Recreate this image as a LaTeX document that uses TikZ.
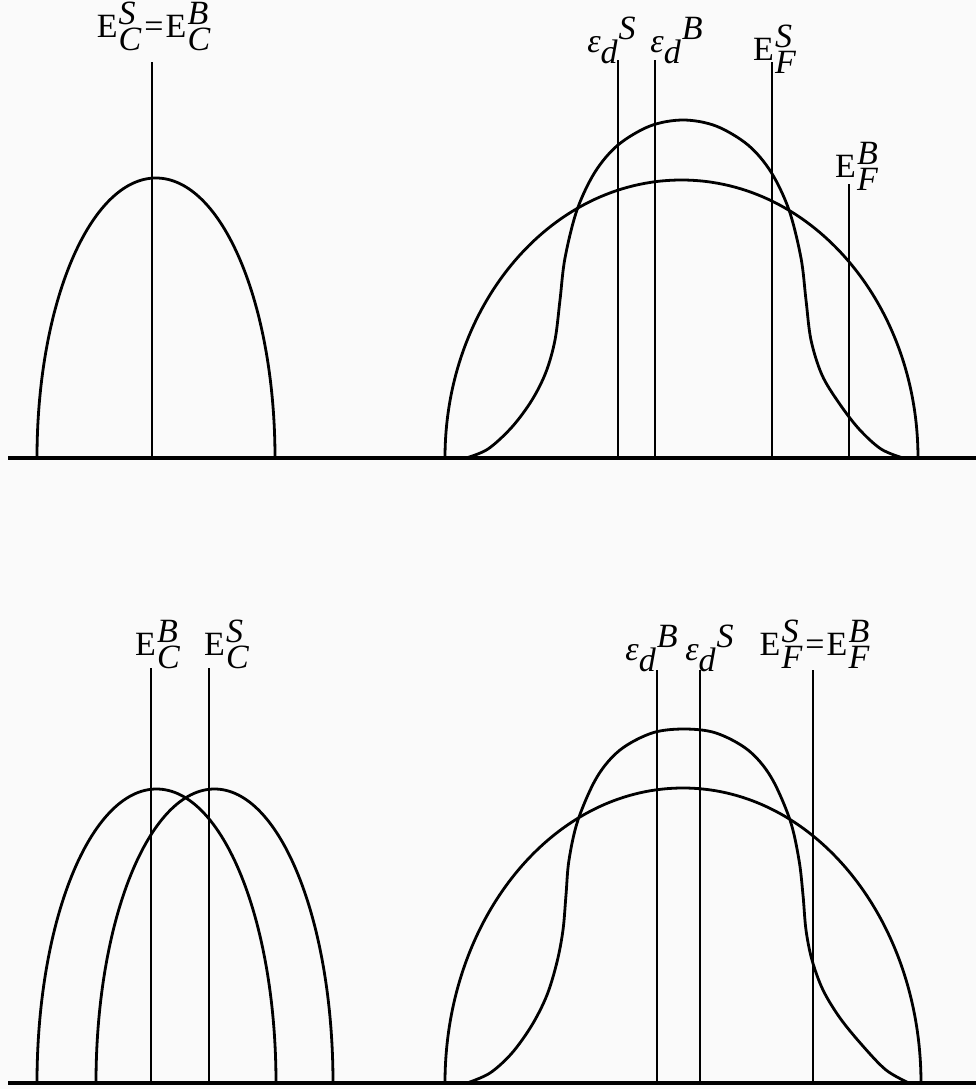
\documentclass[tikz,border=0pt]{standalone}
\usepackage{fontspec}
\setmainfont{Liberation Serif}
\usepackage{tikz}

\begin{document}
\begin{tikzpicture}[x=0.5pt, y=-0.5pt,
    lbl/.style={anchor=base, inner sep=0pt, font=\fontsize{17}{19}\selectfont},
    curve/.style={line width=1.4pt},
    level/.style={line width=1.2pt},
    axis/.style={line width=1.8pt}]
\useasboundingbox[fill=black!2] (0,0) rectangle (976,1089);

% upper panel
\coordinate (B1) at (8,458);
\coordinate (B1e) at (976,458);
\draw[axis] (B1) -- (B1e);

\node[lbl] (ECa) at (154,37) {E\kern0.6pt$^{\textit{S}}_{\textit{C}}$\kern1pt=\kern1pt E\kern0.6pt$^{\textit{B}}_{\textit{C}}$};
\node[lbl] (EDSa) at (612,52) {\textit{ε}$_{\textit{d}}{}^{\textit{S}}$};
\node[lbl] (EDBa) at (677,52) {\textit{ε}$_{\textit{d}}{}^{\textit{B}}$};
\node[lbl] (EFSa) at (775,60) {E\kern0.6pt$^{\textit{S}}_{\textit{F}}$};
\node[lbl] (EFBa) at (857,177) {E\kern0.6pt$^{\textit{B}}_{\textit{F}}$};

\coordinate (ec) at (152,62);
\coordinate (eds) at (618,60);
\coordinate (edb) at (655,60);
\coordinate (efs) at (772,62);
\coordinate (efb) at (849,184);
\foreach \c in {ec,eds,edb,efs,efb}
  \draw[level] (\c) -- (\c |- B1);

\draw[curve] (37,458) arc[start angle=180, end angle=360, x radius=119, y radius=280];
\draw[curve] (445,458) arc[start angle=180, end angle=360, x radius=236.5, y radius=278];
\draw[curve] plot[smooth, tension=0.55] coordinates {(466,458) (488,449) (512,427)
  (532,400) (546,372) (555,340) (560,300) (565,258) (577,210) (595,172) (618,145)
  (650,126) (683,120) (716,126) (748,145) (771,172) (789,210) (801,258) (806,300)
  (811,340) (822,375) (839,403) (859,429) (881,449) (903,458)};

% lower panel
\coordinate (B2) at (8,1083);
\coordinate (B2e) at (976,1083);
\draw[axis] (B2) -- (B2e);

\node[lbl] (ECBb) at (158,655) {E\kern0.6pt$^{\textit{B}}_{\textit{C}}$};
\node[lbl] (ECSb) at (227,655) {E\kern0.6pt$^{\textit{S}}_{\textit{C}}$};
\node[lbl] (EDBb) at (652,660) {\textit{ε}$_{\textit{d}}{}^{\textit{B}}$};
\node[lbl] (EDSb) at (710,660) {\textit{ε}$_{\textit{d}}{}^{\textit{S}}$};
\node[lbl] (EFb) at (815,655) {E\kern0.6pt$^{\textit{S}}_{\textit{F}}$\kern1pt=\kern1pt E\kern0.6pt$^{\textit{B}}_{\textit{F}}$};

\coordinate (ecb) at (151,668);
\coordinate (ecs) at (209,668);
\coordinate (edb2) at (657,670);
\coordinate (eds2) at (700,670);
\coordinate (ef2) at (813,670);
\foreach \c in {ecb,ecs,edb2,eds2,ef2}
  \draw[level] (\c) -- (\c |- B2);

\draw[curve] (37,1083) arc[start angle=180, end angle=360, x radius=119.5, y radius=294];
\draw[curve] (96,1083) arc[start angle=180, end angle=360, x radius=118.5, y radius=294];
\draw[curve] (445,1083) arc[start angle=180, end angle=360, x radius=238, y radius=295];
\draw[curve] plot[smooth, tension=0.55] coordinates {(467,1083) (490,1073) (512,1053)
  (532,1025) (547,995) (557,962) (563,930) (566,895) (569,860) (578,820) (597,777)
  (620,750) (652,733) (684,729) (716,733) (748,750) (771,777) (790,820) (799,860)
  (803,895) (806,930) (812,960) (823,990) (840,1018) (862,1045) (886,1070) (909,1083)};
\end{tikzpicture}
\end{document}
